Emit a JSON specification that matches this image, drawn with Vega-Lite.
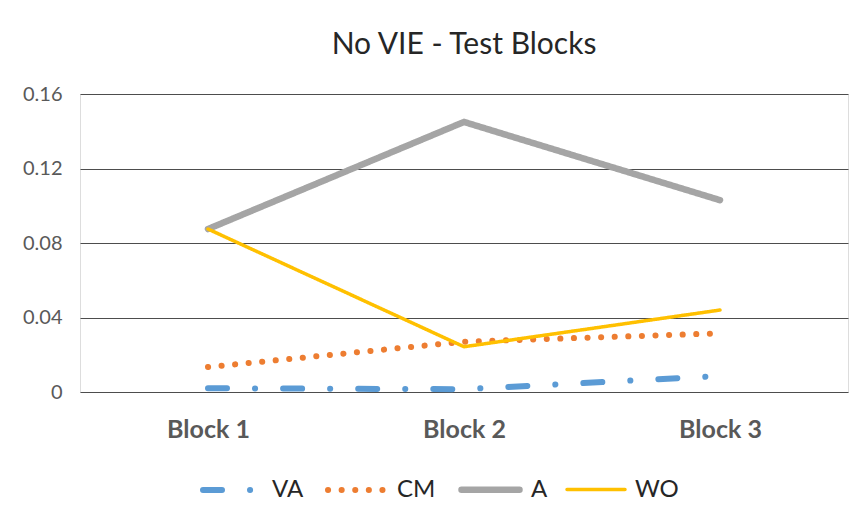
{
  "$schema": "https://vega.github.io/schema/vega-lite/v6.json",
  "width": 768,
  "height": 298,
  "autosize": {"type": "none"},
  "padding": {"left": 80, "top": 94, "right": 17, "bottom": 131},
  "background": "white",
  "title": {"text": "No VIE - Test Blocks", "font": "Lato", "fontSize": 30, "fontWeight": "normal", "color": "#262626", "anchor": "middle", "offset": 24},
  "data": {"values": [
    {"series": "VA", "block": "Block 1", "value": 0.002},
    {"series": "VA", "block": "Block 2", "value": 0.0015},
    {"series": "VA", "block": "Block 3", "value": 0.0086},
    {"series": "CM", "block": "Block 1", "value": 0.0134},
    {"series": "CM", "block": "Block 2", "value": 0.027},
    {"series": "CM", "block": "Block 3", "value": 0.0315},
    {"series": "A", "block": "Block 1", "value": 0.0875},
    {"series": "A", "block": "Block 2", "value": 0.145},
    {"series": "A", "block": "Block 3", "value": 0.103},
    {"series": "WO", "block": "Block 1", "value": 0.0875},
    {"series": "WO", "block": "Block 2", "value": 0.0243},
    {"series": "WO", "block": "Block 3", "value": 0.044}
  ]},
  "mark": {"type": "line", "strokeCap": "round", "strokeJoin": "round"},
  "encoding": {
    "x": {"field": "block", "type": "ordinal", "scale": {"type": "point", "padding": 0.5},
      "axis": {"title": null, "labelAngle": 0, "domain": false, "ticks": false, "grid": false, "labelFont": "Lato", "labelFontSize": 25, "labelFontWeight": "bold", "labelColor": "#595959", "labelPadding": 25}},
    "y": {"field": "value", "type": "quantitative", "scale": {"domain": [0, 0.16]},
      "axis": {"title": null, "values": [0, 0.04, 0.08, 0.12, 0.16], "format": "~g", "domain": false, "ticks": false, "labelFont": "Lato", "labelFontSize": 20, "labelColor": "#595959", "labelPadding": 18, "gridColor": "#4d4d4d", "gridOpacity": 1, "gridWidth": 1}},
    "color": {"field": "series", "type": "nominal", "title": null,
      "scale": {"domain": ["VA", "CM", "A", "WO"], "range": ["#5B9BD5", "#ED7D31", "#A5A5A5", "#FFC000"]},
      "legend": {"orient": "none", "legendX": 120, "legendY": 363, "direction": "horizontal", "symbolType": "stroke", "symbolSize": 3364, "labelFont": "Lato", "labelFontSize": 24, "labelColor": "#262626", "columnPadding": 12, "labelOffset": 8,
        "encode": {"symbols": {"update": {"strokeCap": {"value": "round"}}}}}},
    "strokeDash": {"field": "series", "type": "nominal", "title": null,
      "scale": {"domain": ["VA", "CM", "A", "WO"], "range": [[19, 28, 0.1, 28], [0.1, 13.5], [1, 0], [1, 0]]}},
    "strokeWidth": {"field": "series", "type": "nominal", "title": null,
      "scale": {"type": "ordinal", "domain": ["VA", "CM", "A", "WO"], "range": [6, 6, 6.5, 3.5]}}
  }
}
